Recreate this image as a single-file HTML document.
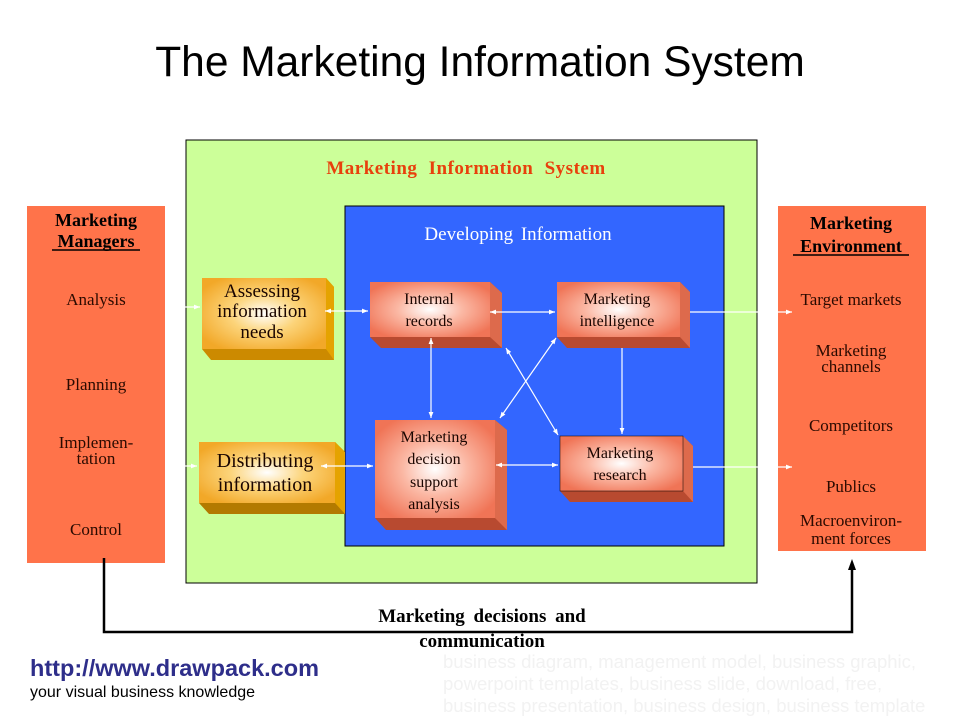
<!DOCTYPE html>
<html><head><meta charset="utf-8"><style>
html,body{margin:0;padding:0;background:#fff;}
svg{display:block;}
.t{font-family:"Liberation Serif",serif;}
</style></head><body>
<svg width="960" height="720" viewBox="0 0 960 720" xmlns="http://www.w3.org/2000/svg">
<defs>
<radialGradient id="sal" cx="50%" cy="50%" r="60%">
<stop offset="0" stop-color="#ffffff"/><stop offset="0.45" stop-color="#fbb8a4"/><stop offset="1" stop-color="#f07456"/></radialGradient>
<radialGradient id="org" cx="50%" cy="50%" r="60%">
<stop offset="0" stop-color="#ffffff"/><stop offset="0.45" stop-color="#fcd47a"/><stop offset="1" stop-color="#f2a828"/></radialGradient>
<marker id="a" viewBox="0 0 10 10" refX="10" refY="5" markerWidth="8" markerHeight="6" orient="auto-start-reverse" markerUnits="userSpaceOnUse"><path d="M0,1 L10,5 L0,9 Z" fill="#fff"/></marker>
</defs>
<text x="480" y="76" text-anchor="middle" font-family="Liberation Sans,sans-serif" font-size="42.5">The Marketing Information System</text>
<rect x="186" y="140" width="571" height="443" fill="#ccff99" stroke="#000" stroke-width="1"/>
<text class="t" x="466" y="174" text-anchor="middle" font-size="19" font-weight="bold" fill="#e8400c" word-spacing="6" letter-spacing="0.5">Marketing Information System</text>
<rect x="345" y="206" width="379" height="340" fill="#3366ff" stroke="#000" stroke-width="1"/>
<text class="t" x="518" y="240" text-anchor="middle" font-size="19" fill="#fff" word-spacing="3">Developing Information</text>
<rect x="27" y="206" width="138" height="357" fill="#ff734a"/>
<rect x="778" y="206" width="148" height="345" fill="#ff734a"/>
<g class="t" text-anchor="middle" fill="#2a0a00">
<text x="96" y="226" font-size="18" font-weight="bold" fill="#000">Marketing</text>
<text x="96" y="247" font-size="18" font-weight="bold" fill="#000">Managers</text>
<line x1="52" y1="250" x2="140" y2="250" stroke="#000" stroke-width="1.5"/>
<text x="96" y="305" font-size="17">Analysis</text>
<text x="96" y="390" font-size="17">Planning</text>
<text x="96" y="448" font-size="17">Implemen-</text>
<text x="96" y="464" font-size="17">tation</text>
<text x="96" y="535" font-size="17">Control</text>
<text x="851" y="229" font-size="18" font-weight="bold" fill="#000">Marketing</text>
<text x="851" y="252" font-size="18" font-weight="bold" fill="#000">Environment</text>
<line x1="793" y1="255" x2="909" y2="255" stroke="#000" stroke-width="1.5"/>
<text x="851" y="305" font-size="17">Target markets</text>
<text x="851" y="356" font-size="17">Marketing</text>
<text x="851" y="372" font-size="17">channels</text>
<text x="851" y="431" font-size="17">Competitors</text>
<text x="851" y="492" font-size="17">Publics</text>
<text x="851" y="526" font-size="17">Macroenviron-</text>
<text x="851" y="544" font-size="17">ment forces</text>
</g>
<g>
<polygon points="326,278 334,287 334,360 211,360 202,349 326,349" fill="#cc8a00"/>
<polygon points="326,278 334,287 334,360 326,349" fill="#e5a300"/>
<rect x="202" y="278" width="124" height="71" fill="url(#org)"/>
<polygon points="335,442 345,452 345,514 209,514 199,503 335,503" fill="#b37a00"/>
<polygon points="335,442 345,452 345,514 335,503" fill="#e5a300"/>
<rect x="199" y="442" width="136" height="61" fill="url(#org)"/>
<polygon points="490,282 502,293 502,348 381,348 370,337 490,337" fill="#b84a30"/>
<polygon points="490,282 502,293 502,348 490,337" fill="#dd6a4c"/>
<rect x="370" y="282" width="120" height="55" fill="url(#sal)"/>
<polygon points="680,282 690,292 690,348 567,348 557,337 680,337" fill="#b84a30"/>
<polygon points="680,282 690,292 690,348 680,337" fill="#dd6a4c"/>
<rect x="557" y="282" width="123" height="55" fill="url(#sal)"/>
<polygon points="495,420 507,430 507,530 386,530 375,518 495,518" fill="#b84a30"/>
<polygon points="495,420 507,430 507,530 495,518" fill="#dd6a4c"/>
<rect x="375" y="420" width="120" height="98" fill="url(#sal)"/>
<polygon points="683,436 693,446 693,502 570,502 560,491 683,491" fill="#b84a30"/>
<polygon points="683,436 693,446 693,502 683,491" fill="#dd6a4c"/>
<rect x="560" y="436" width="123" height="55" fill="url(#sal)" stroke="#000" stroke-width="0.5"/>
</g>
<g class="t" text-anchor="middle" fill="#1a0500">
<text x="262" y="297" font-size="19">Assessing</text>
<text x="262" y="317" font-size="19">information</text>
<text x="262" y="338" font-size="19">needs</text>
<text x="265" y="467" font-size="20">Distributing</text>
<text x="265" y="491" font-size="20">information</text>
<text x="429" y="304" font-size="16">Internal</text>
<text x="429" y="326" font-size="16">records</text>
<text x="617" y="304" font-size="16">Marketing</text>
<text x="617" y="326" font-size="16">intelligence</text>
<text x="434" y="442" font-size="16">Marketing</text>
<text x="434" y="464" font-size="16">decision</text>
<text x="434" y="487" font-size="16">support</text>
<text x="434" y="509" font-size="16">analysis</text>
<text x="620" y="458" font-size="16">Marketing</text>
<text x="620" y="480" font-size="16">research</text>
</g>
<g stroke="#fff" stroke-width="1.2" fill="none">
<line x1="165" y1="307" x2="200" y2="307" marker-end="url(#a)"/>
<line x1="165" y1="466" x2="197" y2="466" marker-end="url(#a)"/>
<line x1="325" y1="311" x2="368" y2="311" marker-start="url(#a)" marker-end="url(#a)"/>
<line x1="321" y1="466" x2="373" y2="466" marker-start="url(#a)" marker-end="url(#a)"/>
<line x1="490" y1="312" x2="555" y2="312" marker-start="url(#a)" marker-end="url(#a)"/>
<line x1="496" y1="465" x2="558" y2="465" marker-start="url(#a)" marker-end="url(#a)"/>
<line x1="431" y1="338" x2="431" y2="418" marker-start="url(#a)" marker-end="url(#a)"/>
<line x1="622" y1="348" x2="622" y2="434" marker-end="url(#a)"/>
<line x1="556" y1="338" x2="500" y2="418" marker-start="url(#a)" marker-end="url(#a)"/>
<line x1="506" y1="348" x2="558" y2="435" marker-start="url(#a)" marker-end="url(#a)"/>
<line x1="690" y1="312" x2="792" y2="312" marker-end="url(#a)"/>
<line x1="693" y1="467" x2="792" y2="467" marker-end="url(#a)"/>
</g>
<path d="M104,558 L104,632 L852,632 L852,568" stroke="#000" stroke-width="2.5" fill="none"/>
<path d="M848,570 L852,559 L856,570 Z" fill="#000"/>
<text class="t" x="482" y="622" text-anchor="middle" font-size="19" font-weight="bold" word-spacing="4">Marketing decisions and</text>
<text class="t" x="482" y="647" text-anchor="middle" font-size="19" font-weight="bold">communication</text>
<text x="30" y="676" font-family="Liberation Sans,sans-serif" font-size="23.5" font-weight="bold" fill="#2e2e8a">http://www.drawpack.com</text>
<text x="30" y="697" font-family="Liberation Sans,sans-serif" font-size="16" fill="#000">your visual business knowledge</text>
<g font-family="Liberation Sans,sans-serif" font-size="18.5" fill="#f2f2f2">
<text x="443" y="668">business diagram, management model, business graphic,</text>
<text x="443" y="690">powerpoint templates, business slide, download, free,</text>
<text x="443" y="712">business presentation, business design, business template</text>
</g>
</svg>
</body></html>
